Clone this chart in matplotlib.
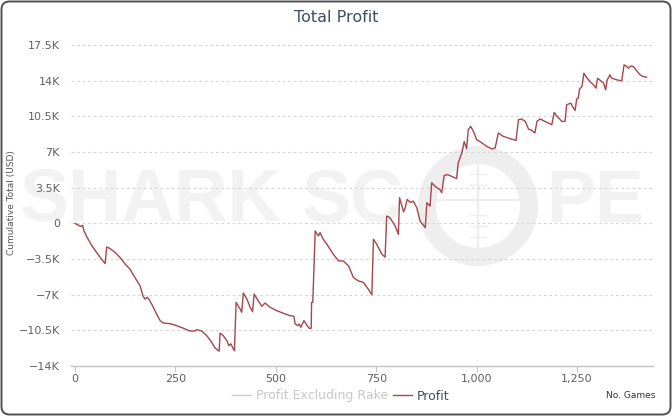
import matplotlib
matplotlib.use('Agg')
import matplotlib.pyplot as plt
from matplotlib.patches import Circle, FancyBboxPatch
from matplotlib.lines import Line2D
from matplotlib.ticker import FixedLocator, FixedFormatter

# ---------------- data ----------------
games = [0, 14, 19, 22, 29, 42, 54, 66, 75, 79, 87, 100, 112, 125, 137, 149, 162, 169, 174, 180,
         185, 195, 203, 212, 220, 237, 253, 270, 286, 299, 303, 315, 328, 340, 349, 357, 359, 361,
         369, 378, 383, 388, 394, 397, 401, 411, 415, 419, 428, 436, 442, 446, 456, 465, 473, 486,
         502, 519, 535, 545, 548, 554, 558, 562, 570, 578, 583, 588, 589, 592, 598, 606, 610, 618,
         627, 643, 656, 668, 681, 693, 705, 718, 730, 739, 743, 751, 764, 772, 776, 784, 797, 805,
         808, 818, 822, 827, 835, 842, 851, 859, 872, 876, 884, 888, 896, 909, 913, 919, 927, 950,
         954, 963, 969, 975, 979, 985, 992, 1000, 1013, 1025, 1038, 1046, 1054, 1066, 1083, 1098,
         1104, 1112, 1121, 1129, 1137, 1145, 1150, 1158, 1170, 1187, 1193, 1199, 1212, 1220, 1224,
         1234, 1241, 1245, 1249, 1253, 1256, 1262, 1267, 1272, 1282, 1291, 1297, 1301, 1306, 1316,
         1321, 1325, 1332, 1336, 1349, 1361, 1367, 1374, 1378, 1384, 1390, 1398, 1407, 1415, 1423]

profit = [0, -300, -200, -700, -1300, -2200, -2870, -3520, -3940, -2320, -2470, -2860, -3350, -4010,
          -4500, -5310, -6130, -7110, -7430, -7260, -7500, -8240, -8900, -9550, -9780, -9850, -10040,
          -10300, -10560, -10560, -10430, -10560, -11020, -11660, -12250, -12490, -12540, -10780,
          -11020, -11510, -12000, -11830, -12320, -12490, -7750, -8410, -8730, -6840, -7430, -8240,
          -8670, -6940, -7600, -8140, -7820, -8240, -8570, -8830, -9060, -9120, -9870, -10040, -9870,
          -10200, -9550, -10040, -10300, -10300, -7750, -7750, -750, -1240, -910, -1560, -2050,
          -3030, -3690, -3690, -4170, -5310, -5640, -5800, -6450, -7010, -1560, -2050, -3030, -3320,
          710, 560, -260, -1080, 2510, 1120, 1530, 2350, 2050, 2180, 1530, 220, -420, 2020, 1690,
          3980, 3650, 3280, 3000, 4690, 4790, 4400, 5930, 6910, 8020, 7330, 9190, 9510, 9020, 8210,
          7890, 7560, 7300, 7400, 8870, 8540, 8310, 8140, 10170, 10240, 10000, 9260, 9120, 8870,
          10000, 10240, 10000, 9680, 10880, 10560, 10000, 10000, 11630, 11800, 11310, 11080, 12190,
          12290, 13170, 13420, 14730, 14400, 13910, 13590, 13270, 14240, 14080, 13760, 13100, 14080,
          14570, 14240, 14080, 13980, 15550, 15380, 15220, 15450, 15380, 14990, 14570, 14400, 14340]

y_ticks = [-14000, -10500, -7000, -3500, 0, 3500, 7000, 10500, 14000, 17500]
y_labels = ['\u221214K', '\u221210.5K', '\u22127K', '\u22123.5K', '0', '3.5K', '7K', '10.5K', '14K', '17.5K']
x_ticks = [0, 250, 500, 750, 1000, 1250]
x_labels = ['0', '250', '500', '750', '1,000', '1,250']
series_names = ['Profit Excluding Rake', 'Profit']

# ---------------- figure ----------------
W, H = 672, 416
fig = plt.figure(figsize=(W / 100, H / 100), dpi=100)

bg = fig.add_axes([0, 0, 1, 1], zorder=0)
bg.set_xlim(0, W)
bg.set_ylim(H, 0)
bg.axis('off')
bg.add_patch(FancyBboxPatch((1.5, 1.5), W - 3, H - 3,
                            boxstyle='round,pad=0,rounding_size=8',
                            fc='white', ec='#505050', lw=1.4))

# watermark
wm = '#f2f2f2'
wm2 = '#eeeeee'
bg.text(20, 222, 'SHARK', fontfamily='Liberation Sans', fontweight='bold', fontsize=53,
        color=wm, va='baseline', ha='left')
bg.text(302, 222, 'SC', fontfamily='Liberation Sans', fontweight='bold', fontsize=53,
        color=wm, va='baseline', ha='left')
bg.text(546, 222, 'PE', fontfamily='Liberation Sans', fontweight='bold', fontsize=53,
        color=wm, va='baseline', ha='left')
bg.add_patch(Circle((478, 206), 51, fill=False, ec=wm2, lw=13))
bg.plot([478, 478], [150, 262], color=wm2, lw=1.5)
bg.plot([426, 530], [200, 200], color=wm2, lw=1.5)
for yy in [163, 174, 185, 215, 226, 237, 248]:
    bg.plot([470, 486], [yy, yy], color=wm2, lw=1.0)

# main axes
left, right, top, bottom = 71, 653, 45, 366
ax = fig.add_axes([left / W, 1 - bottom / H, (right - left) / W, (bottom - top) / H], zorder=1)
ax.set_facecolor('none')

line_color = '#a5464b'
ax.plot(games, profit, color=line_color, lw=1.0)

ax.set_xlim(-10, 1439)
ax.set_ylim(-14000, 17500)

ax.yaxis.set_major_locator(FixedLocator(y_ticks))
ax.yaxis.set_major_formatter(FixedFormatter(y_labels))
ax.xaxis.set_major_locator(FixedLocator(x_ticks))
ax.xaxis.set_major_formatter(FixedFormatter(x_labels))

ax.yaxis.grid(True, linestyle=(0, (2.5, 2.5)), color='#d6d6d6', lw=0.8)
ax.set_axisbelow(True)
for s in ['left', 'top', 'right']:
    ax.spines[s].set_visible(False)
ax.spines['bottom'].set_color('#c4c4c4')
ax.spines['bottom'].set_linewidth(1.0)

ax.tick_params(axis='y', length=0, pad=8, labelsize=8, labelcolor='#606060')
ax.tick_params(axis='x', length=4, width=0.8, color='#c4c4c4', pad=2, labelsize=8,
               labelcolor='#606060', direction='out')

# texts
fig.text(0.5, 1 - 18 / H, 'Total Profit', ha='center', va='center', fontsize=11.5,
         color='#3d4f5f')
fig.text(12 / W, 1 - 203 / H, 'Cumulative Total (USD)', rotation=90, ha='center',
         va='center', fontsize=6.5, color='#555555')
fig.text(655 / W, 1 - 396 / H, 'No. Games', ha='right', va='center', fontsize=6.5,
         color='#333333')

handles = [Line2D([], [], color='#cccccc', lw=1.0), Line2D([], [], color=line_color, lw=1.0)]
leg = fig.legend(handles, series_names, loc='center', bbox_to_anchor=(341 / W, 1 - 396 / H),
                 ncol=2, frameon=False, fontsize=9, handlelength=1.5, columnspacing=0.4,
                 handletextpad=0.4, borderaxespad=0, borderpad=0)
leg.get_texts()[0].set_color('#c8c8c8')
leg.get_texts()[1].set_color('#3d4f5f')

fig.savefig('out.png', dpi=100)
